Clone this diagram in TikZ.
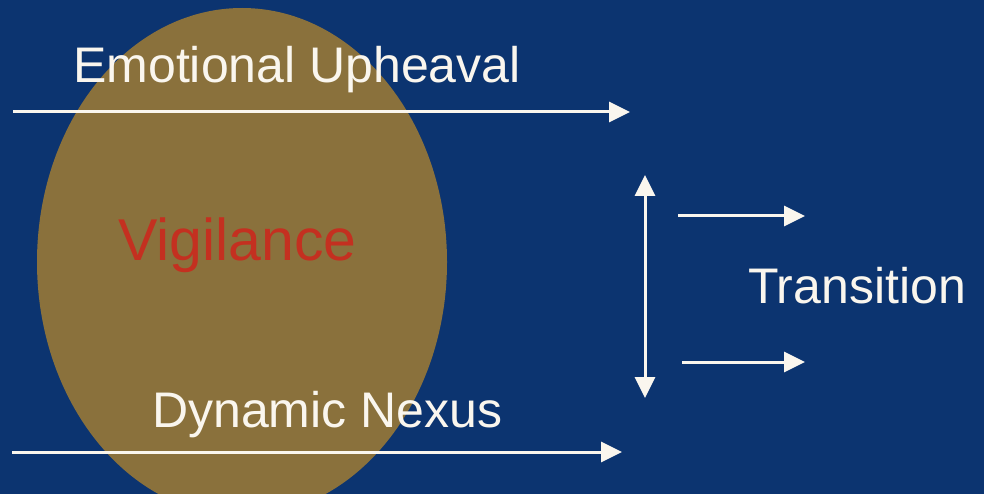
\documentclass[tikz,border=0pt]{standalone}
\usepackage{fontspec}
\setmainfont{Liberation Sans}
\usetikzlibrary{arrows.meta}
\definecolor{slideblue}{RGB}{12,52,112}
\definecolor{vigtan}{RGB}{138,113,60}
\definecolor{vigred}{RGB}{196,48,32}
\definecolor{chalk}{RGB}{250,246,238}

\begin{document}
\begin{tikzpicture}[x=1pt,y=-1pt,>={Triangle[length=21pt,width=20pt]},
    heading/.style ={text=chalk, inner sep=0pt, anchor=base west, font=\fontsize{50}{60}\selectfont},
    flow/.style ={draw=chalk, line width=3pt, ->}]
   \fill[slideblue] (0,0) rectangle (984,494);
   \useasboundingbox (0,0) rectangle (984,494);
   \fill[vigtan] (242,262) ellipse [x radius=205pt, y radius=254pt];
   \node[heading] (emo) at (73,83) {Emotional Upheaval};
   \node[heading] (dyn) at (152,427) {Dynamic Nexus};
   \node[heading] (trans) at (748,303) {Transition};
   \node[heading, text=vigred, font=\fontsize{59}{70}\selectfont] (vig) at (118,260) {Vigilance};
   \coordinate (emoL) at (13,112);  \coordinate (emoR) at (630,112);
   \coordinate (dynL) at (12,452);  \coordinate (dynR) at (622,452);
   \coordinate (vtop) at (645,175); \coordinate (vbot) at (645,398);
   \coordinate (upL) at (678,216);  \coordinate (upR) at (805,216);
   \coordinate (loL) at (682,362);  \coordinate (loR) at (805,362);
   \draw[flow] (emoL) -- (emoR);
   \draw[flow] (dynL) -- (dynR);
   \draw[flow,<->] (vtop) -- (vbot);
   \draw[flow] (upL) -- (upR);
   \draw[flow] (loL) -- (loR);
 \end{tikzpicture}
\end{document}
